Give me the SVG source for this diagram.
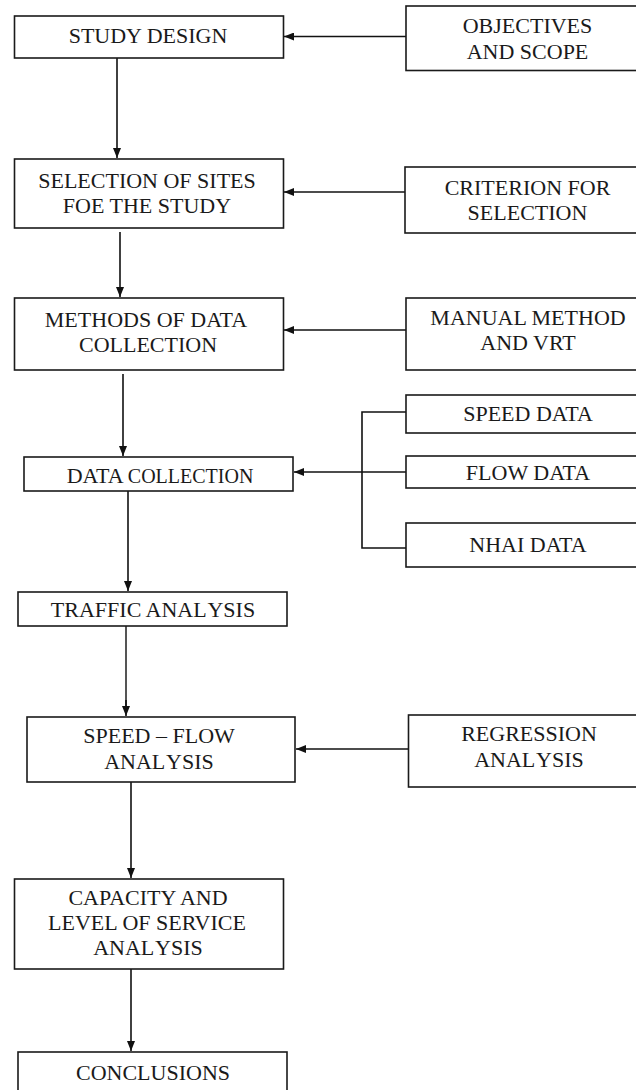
<svg xmlns="http://www.w3.org/2000/svg" width="636" height="1090" viewBox="0 0 636 1090">
<defs>
<style>
.box{fill:#fff;stroke:#1a1a1a;stroke-width:1.6}
.t{font-family:"Liberation Serif","Times New Roman",serif;font-size:22px;fill:#1a1a1a;text-anchor:middle}
.c{fill:none;stroke:#111;stroke-width:1.6}
.g{fill:none;stroke:#555;stroke-width:2}
</style>
<marker id="ah" viewBox="0 0 10 8" refX="10" refY="4" markerWidth="10" markerHeight="8" markerUnits="userSpaceOnUse" orient="auto">
<path d="M0,0 L10,4 L0,8 z" fill="#111"/>
</marker>
</defs>
<rect width="636" height="1090" fill="#fff"/>
<g id="connectors">
<path class="c" d="M406,36.5 H284" marker-end="url(#ah)"/>
<path class="c" d="M117,58 V158" marker-end="url(#ah)"/>
<path class="c" d="M405,192 H284" marker-end="url(#ah)"/>
<path class="c" d="M120,232 V297" marker-end="url(#ah)"/>
<path class="c" d="M406,330 H284" marker-end="url(#ah)"/>
<path class="c" d="M123,374 V456" marker-end="url(#ah)"/>
<path class="c" d="M410,412 H362 V548 H410"/>
<path class="c" d="M406,472 H294" marker-end="url(#ah)"/>
<path class="c" d="M128,491 V591" marker-end="url(#ah)"/>
<path class="g" d="M126,626 V706"/>
<path class="c" d="M126,700 V716" marker-end="url(#ah)"/>
<path class="c" d="M408,749 H296" marker-end="url(#ah)"/>
<path class="c" d="M131,782 V878" marker-end="url(#ah)"/>
<path class="c" d="M131,969 V1051" marker-end="url(#ah)"/>
</g>
<g id="study-design">
<rect class="box" x="14.5" y="16" width="269" height="42"/>
<text class="t" x="148" y="43.3">STUDY DESIGN</text>
</g>
<g id="objectives">
<rect class="box" x="406" y="6" width="250" height="64.5"/>
<text class="t" x="527.5" y="33.3">OBJECTIVES</text>
<text class="t" x="527.5" y="59.3">AND SCOPE</text>
</g>
<g id="selection">
<rect class="box" x="14.5" y="159" width="269" height="69"/>
<text class="t" x="147" y="188.3">SELECTION OF SITES</text>
<text class="t" x="147" y="213.3">FOE THE STUDY</text>
</g>
<g id="criterion">
<rect class="box" x="405" y="167" width="250" height="66"/>
<text class="t" x="527.5" y="195">CRITERION FOR</text>
<text class="t" x="527.5" y="220">SELECTION</text>
</g>
<g id="methods">
<rect class="box" x="14.5" y="298" width="269" height="72"/>
<text class="t" x="146" y="326.7">METHODS OF DATA</text>
<text class="t" x="148" y="351.7">COLLECTION</text>
</g>
<g id="manual">
<rect class="box" x="406" y="298" width="250" height="72"/>
<text class="t" x="528" y="325">MANUAL METHOD</text>
<text class="t" x="528" y="350">AND VRT</text>
</g>
<g id="speed-data">
<rect class="box" x="406" y="395" width="250" height="38"/>
<text class="t" x="528" y="420.7">SPEED DATA</text>
</g>
<g id="flow-data">
<rect class="box" x="406" y="456" width="250" height="32"/>
<text class="t" x="528" y="480">FLOW DATA</text>
</g>
<g id="nhai-data">
<rect class="box" x="406" y="523" width="250" height="44"/>
<text class="t" x="528" y="551.7">NHAI DATA</text>
</g>
<g id="data-collection">
<rect class="box" x="24" y="457" width="269" height="34"/>
<text class="t" x="160" y="483.3">DATA <tspan font-size="20">COLLECTION</tspan></text>
</g>
<g id="traffic-analysis">
<rect class="box" x="18" y="592" width="269" height="34"/>
<text class="t" x="153" y="617.3">TRAFFIC ANAL<tspan dx="3">YSIS</tspan></text>
</g>
<g id="speed-flow">
<rect class="box" x="27" y="717" width="268" height="65"/>
<text class="t" x="159" y="742.7">SPEED – FLOW</text>
<text class="t" x="159" y="769.3">ANAL<tspan dx="3">YSIS</tspan></text>
</g>
<g id="regression">
<rect class="box" x="408.5" y="715" width="250" height="72"/>
<text class="t" x="529" y="741">REGRESSION</text>
<text class="t" x="529" y="766.7">ANAL<tspan dx="3">YSIS</tspan></text>
</g>
<g id="capacity">
<rect class="box" x="14.5" y="879" width="269" height="90"/>
<text class="t" x="148" y="905">CAPACITY AND</text>
<text class="t" x="147" y="930">LEVEL OF SERVICE</text>
<text class="t" x="148" y="955">ANAL<tspan dx="3">YSIS</tspan></text>
</g>
<g id="conclusions">
<rect class="box" x="18" y="1052" width="269" height="60"/>
<text class="t" x="153" y="1080">CONCLUSIONS</text>
</g>
</svg>
